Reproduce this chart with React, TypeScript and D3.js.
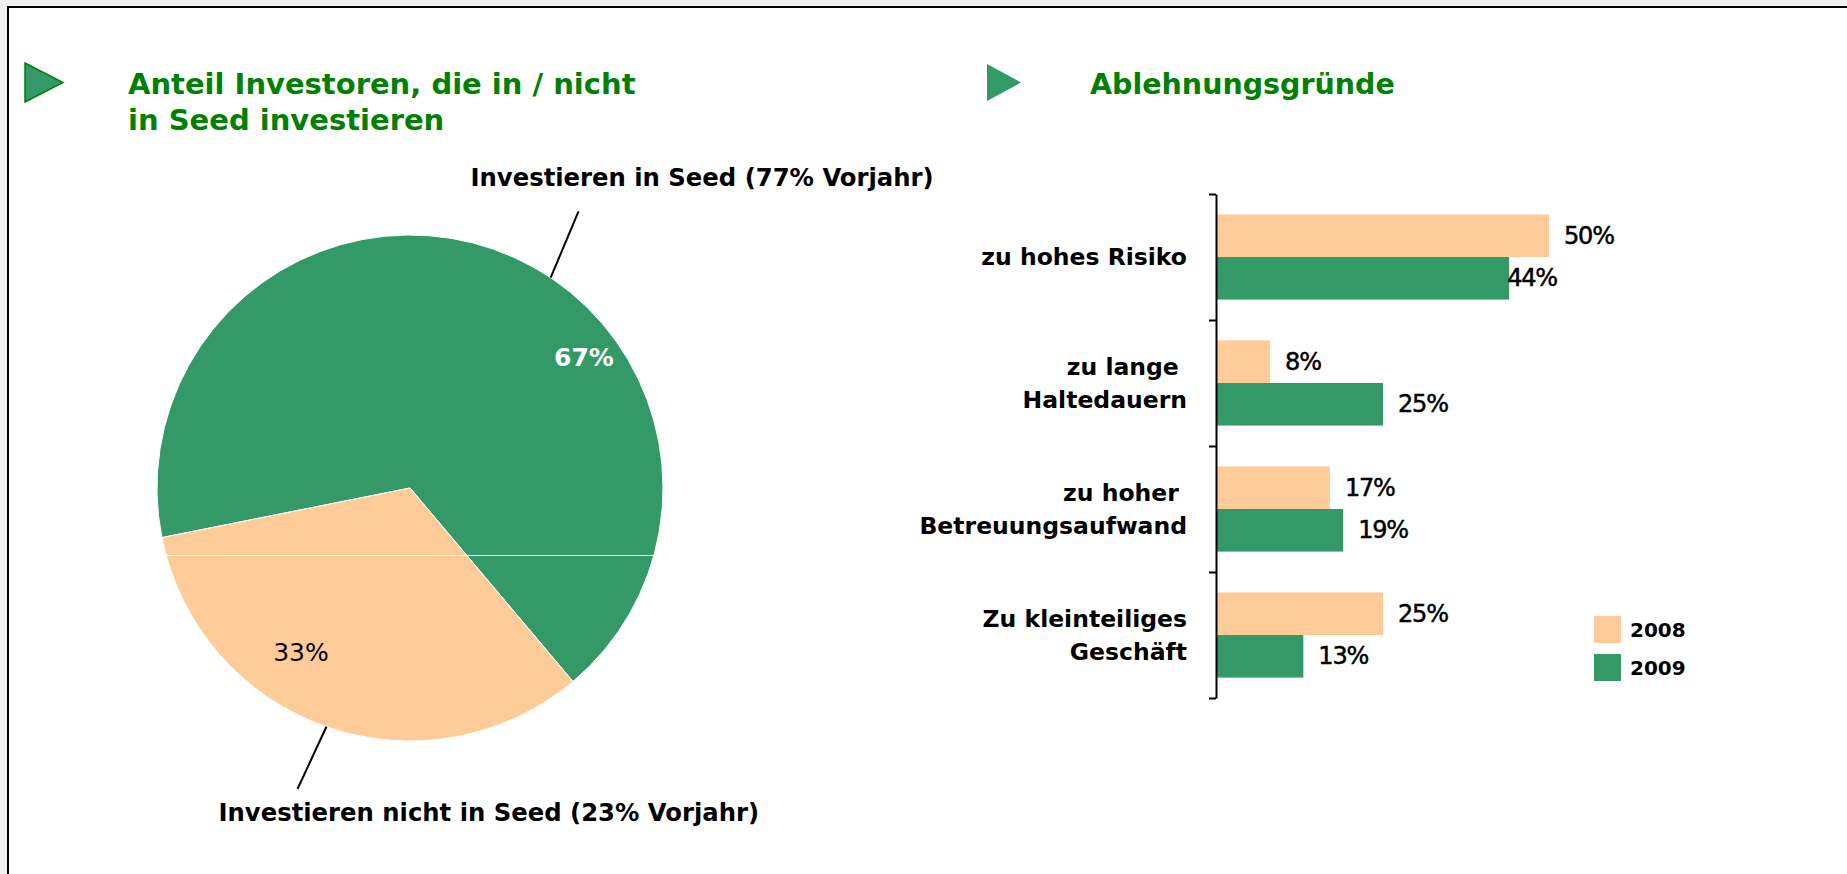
import React, { useEffect, useRef } from 'react';
import * as d3 from 'd3';

// pie: share of investors who do / do not invest in seed
const pieNames = ['Investieren in Seed (77% Vorjahr)', 'Investieren nicht in Seed (23% Vorjahr)'];
const pieValues = [67, 33];
const pieValueLabels = ['67%', '33%'];

// bars: reasons for rejection
const categoryLines = [
  ['zu hohes Risiko'],
  ['zu lange ', 'Haltedauern'],
  ['zu hoher ', 'Betreuungsaufwand'],
  ['Zu kleinteiliges', 'Geschäft'],
];
const years = ['2008', '2009'];
const values2008 = [50, 8, 17, 25];
const values2009 = [44, 25, 19, 13];

const W = 1847;
const H = 874;
const GREEN = '#339966';
const PEACH = '#FFCC99';
const TITLE = '#008000';
const FONT = "'DejaVu Sans', Verdana, sans-serif";

const deg = (d: number) => (d * Math.PI) / 180;
const polar = (cx: number, cy: number, a: number, r: number) => [cx + r * Math.sin(a), cy - r * Math.cos(a)];

const App = () => {
  const axisRef = useRef<SVGGElement>(null);

  // pie layout
  const cx = 410;
  const cy = 488;
  const r = 253;
  const start = deg(-101.3);
  const pie = d3.pie<number>().sort(null).startAngle(start).endAngle(start + 2 * Math.PI);
  const arcs = pie(pieValues);
  const arc = d3.arc<d3.PieArcDatum<number>>().innerRadius(0).outerRadius(r);
  const colors = [GREEN, PEACH];
  const labelPos = [
    { f: 0.64, k: 0.86 },
    { f: 0.62, k: 0.78 },
  ];

  // bar layout
  const top = 194;
  const bottom = 698;
  const axisX = 1217;
  const idx = categoryLines.map((_, i) => i);
  const y0 = d3.scaleBand<number>().domain(idx).range([top, bottom]).padding(0);
  const y1 = d3.scaleBand<string>().domain(years).range([0, y0.bandwidth()]).paddingInner(0).paddingOuter(0.48);
  const x = d3.scaleLinear().domain([0, 50]).range([axisX, axisX + 332]);
  const edge = d3.scaleLinear().domain([0, categoryLines.length]).range([top, bottom]);
  const series = [values2008, values2009];
  const seriesColors = [PEACH, GREEN];
  // the 44% label sits on the bar end in the original
  const nudge = (c: number, s: number) => (c === 0 && s === 1 ? -17 : 0);

  useEffect(() => {
    const g = d3.select(axisRef.current);
    g.selectAll('*').remove();
    g.call(
      d3.axisLeft(edge)
        .tickValues(d3.range(categoryLines.length + 1))
        .tickSize(7)
        .tickSizeOuter(0)
        .tickFormat(() => '')
    );
    g.selectAll('path, line').attr('stroke', '#000').attr('stroke-width', 2);
  }, []);

  // leader lines: slice index, fraction along slice at rim / at end, end radius factor, label offset
  const leaders = [
    { i: 0, f: 0.56, f2: 0.55, k: 1.28, dx: -108, dy: -25 },
    { i: 1, f: 0.5, f2: 0.51, k: 1.27, dx: -79, dy: 32 },
  ];

  return (
    <svg width={W} height={H} style={{ position: 'absolute', left: 0, top: 0 }} fontFamily={FONT}>
      <rect x={0} y={0} width={W} height={H} fill="#f0f0f0" />
      <rect x={8} y={7} width={W + 20} height={H + 20} fill="#fff" stroke="#000" strokeWidth={2} />

      {/* left title */}
      <polygon points="25,63 25,102 63,82.5" fill={GREEN} stroke={TITLE} strokeWidth={1.5} />
      <text x={128} y={94} fontSize={29} fontWeight="bold" fill={TITLE}>Anteil Investoren, die in / nicht</text>
      <text x={128} y={130} fontSize={29} fontWeight="bold" fill={TITLE}>in Seed investieren</text>

      {/* right title */}
      <polygon points="987,64 987,101 1021,82.5" fill={GREEN} />
      <text x={1090} y={94} fontSize={28.5} fontWeight="bold" fill={TITLE}>Ablehnungsgründe</text>

      {/* pie */}
      <g transform={`translate(${cx},${cy})`}>
        {arcs.map((a, i) => (
          <path key={i} d={arc(a) || ''} fill={colors[i]} stroke="#fff" strokeWidth={1} />
        ))}
      </g>
      <line x1={cx - r + 10} x2={cx + r - 3} y1={cy + 67.5} y2={cy + 67.5} stroke="#fff" strokeWidth={1} />
      {arcs.map((a, i) => {
        const ang = a.startAngle + labelPos[i].f * (a.endAngle - a.startAngle);
        const [lx, ly] = polar(cx, cy, ang, r * labelPos[i].k);
        return (
          <text
            key={i}
            x={lx}
            y={ly}
            textAnchor="middle"
            dominantBaseline="central"
            fontSize={i === 0 ? 25 : 25}
            fontWeight={i === 0 ? 'bold' : 'normal'}
            fill={i === 0 ? '#fff' : '#000'}
          >
            {pieValueLabels[i]}
          </text>
        );
      })}
      {leaders.map((l) => {
        const a = arcs[l.i];
        const span = a.endAngle - a.startAngle;
        const [x1, yy1] = polar(cx, cy, a.startAngle + l.f * span, r);
        const [x2, yy2] = polar(cx, cy, a.startAngle + l.f2 * span, r * l.k);
        return (
          <g key={l.i}>
            <line x1={x1} y1={yy1} x2={x2} y2={yy2} stroke="#000" strokeWidth={2} />
            <text x={x2 + l.dx} y={yy2 + l.dy} fontSize={24.3} fontWeight="bold" fill="#000">
              {pieNames[l.i]}
            </text>
          </g>
        );
      })}

      {/* bars */}
      {idx.map((c) =>
        series.map((vals, s) => (
          <rect
            key={`${c}-${s}`}
            x={axisX}
            y={(y0(c) || 0) + (y1(years[s]) || 0)}
            width={x(vals[c]) - axisX}
            height={y1.bandwidth()}
            fill={seriesColors[s]}
          />
        ))
      )}
      <g ref={axisRef} transform={`translate(${axisX - 1},0)`} />
      {idx.map((c) =>
        series.map((vals, s) => (
          <text
            key={`v${c}-${s}`}
            x={x(vals[c]) + 15 + nudge(c, s)}
            y={(y0(c) || 0) + (y1(years[s]) || 0) + y1.bandwidth() / 2}
            dominantBaseline="central"
            fontSize={24}
            letterSpacing={-1.2}
            stroke="#000"
            strokeWidth={0.5}
            fill="#000"
          >
            {vals[c]}%
          </text>
        ))
      )}
      {idx.map((c) => {
        const lines = categoryLines[c];
        const mid = (y0(c) || 0) + y0.bandwidth() / 2;
        const lh = 33;
        return lines.map((t, j) => (
          <text
            key={`c${c}-${j}`}
            x={axisX - 30}
            y={mid + (j - (lines.length - 1) / 2) * lh}
            textAnchor="end"
            dominantBaseline="central"
            fontSize={23.5}
            fontWeight="bold"
            style={{ whiteSpace: 'pre' }}
          >
            {t}
          </text>
        ));
      })}

      {/* legend */}
      {years.map((yr, s) => (
        <g key={yr} transform={`translate(1594,${616 + s * 38})`}>
          <rect width={27} height={27} fill={seriesColors[s]} />
          <text x={36} y={14} dominantBaseline="central" fontSize={20} fontWeight="bold">{yr}</text>
        </g>
      ))}
    </svg>
  );
};

export default App;
